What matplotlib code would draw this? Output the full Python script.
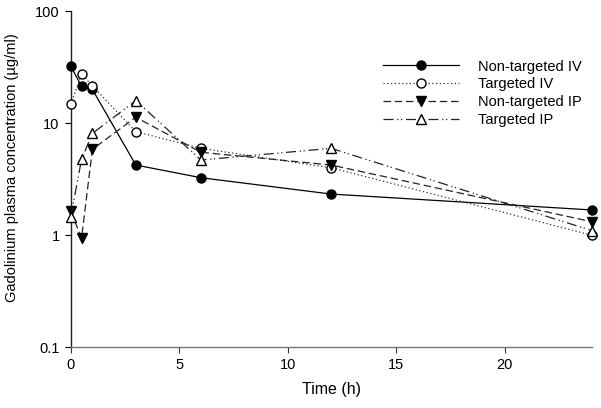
import matplotlib
matplotlib.use("Agg")
import matplotlib.pyplot as plt

plt.rcParams['font.family'] = ['Liberation Sans', 'DejaVu Sans']

time = [0, 0.5, 1, 3, 6, 12, 24]
nontargeted_iv = [32.3, 21.4, 20.0, 4.23, 3.26, 2.33, 1.68]
targeted_iv = [14.7, 27.4, 21.5, 8.4, 5.96, 4.0, 1.0]
nontargeted_ip = [1.65, 0.94, 5.84, 11.3, 5.5, 4.23, 1.32]
targeted_ip = [1.45, 4.75, 8.1, 15.9, 4.69, 5.96, 1.1]
labels = ["Non-targeted IV", "Targeted IV", "Non-targeted IP", "Targeted IP"]
xticks = [0, 5, 10, 15, 20]
yticks = [0.1, 1, 10, 100]
yticklabels = ["0.1", "1", "10", "100"]

fig = plt.figure(figsize=(6.01, 4.08), dpi=100)
ax = fig.add_axes([0.1176, 0.1488, 0.867, 0.824])

lw = 0.9
ms = 6.5
ax.plot(time, nontargeted_iv, color='black', linestyle='-', linewidth=lw,
        marker='o', markersize=ms, markerfacecolor='black', markeredgecolor='black',
        label=labels[0], clip_on=False, zorder=3)
ax.plot(time, targeted_iv, color='#333333', linestyle=(0, (1, 2)), linewidth=lw,
        marker='o', markersize=ms, markerfacecolor='white', markeredgecolor='black',
        label=labels[1], clip_on=False, zorder=3)
ax.plot(time, nontargeted_ip, color='#222222', linestyle=(0, (6, 3)), linewidth=lw,
        marker='v', markersize=ms + 0.5, markerfacecolor='black', markeredgecolor='black',
        label=labels[2], clip_on=False, zorder=3)
ax.plot(time, targeted_ip, color='#222222', linestyle=(0, (8, 3, 1, 2, 1, 3)), linewidth=lw,
        marker='^', markersize=ms + 0.5, markerfacecolor='white', markeredgecolor='black',
        label=labels[3], clip_on=False, zorder=3)

ax.set_yscale('log')
ax.set_xlim(0, 24)
ax.set_ylim(0.1, 100)
ax.set_xticks(xticks)
ax.set_xticklabels([str(t) for t in xticks], fontsize=10.5)
ax.set_yticks(yticks)
ax.set_yticklabels(yticklabels, fontsize=10.5)
ax.yaxis.set_minor_locator(matplotlib.ticker.NullLocator())
ax.tick_params(axis='both', direction='out', length=4, width=0.8, pad=4)

for s in ['top', 'right']:
    ax.spines[s].set_visible(False)
ax.spines['left'].set_color('#222222')
ax.spines['left'].set_linewidth(1.0)
ax.spines['bottom'].set_color('#777777')
ax.spines['bottom'].set_linewidth(1.0)
ax.tick_params(axis='x', colors='#333333', labelcolor='black')

ax.set_xlabel("Time (h)", fontsize=11.5, labelpad=7)
ax.set_ylabel("Gadolinium plasma concentration (µg/ml)", fontsize=10.5)
ax.yaxis.set_label_coords(-0.1, 0.533)

leg = ax.legend(loc='upper left', bbox_to_anchor=(0.574, 0.895), frameon=False,
                fontsize=10.5, handlelength=5.2, handletextpad=1.3,
                labelspacing=0.27)

fig.savefig("out.png", dpi=100)
